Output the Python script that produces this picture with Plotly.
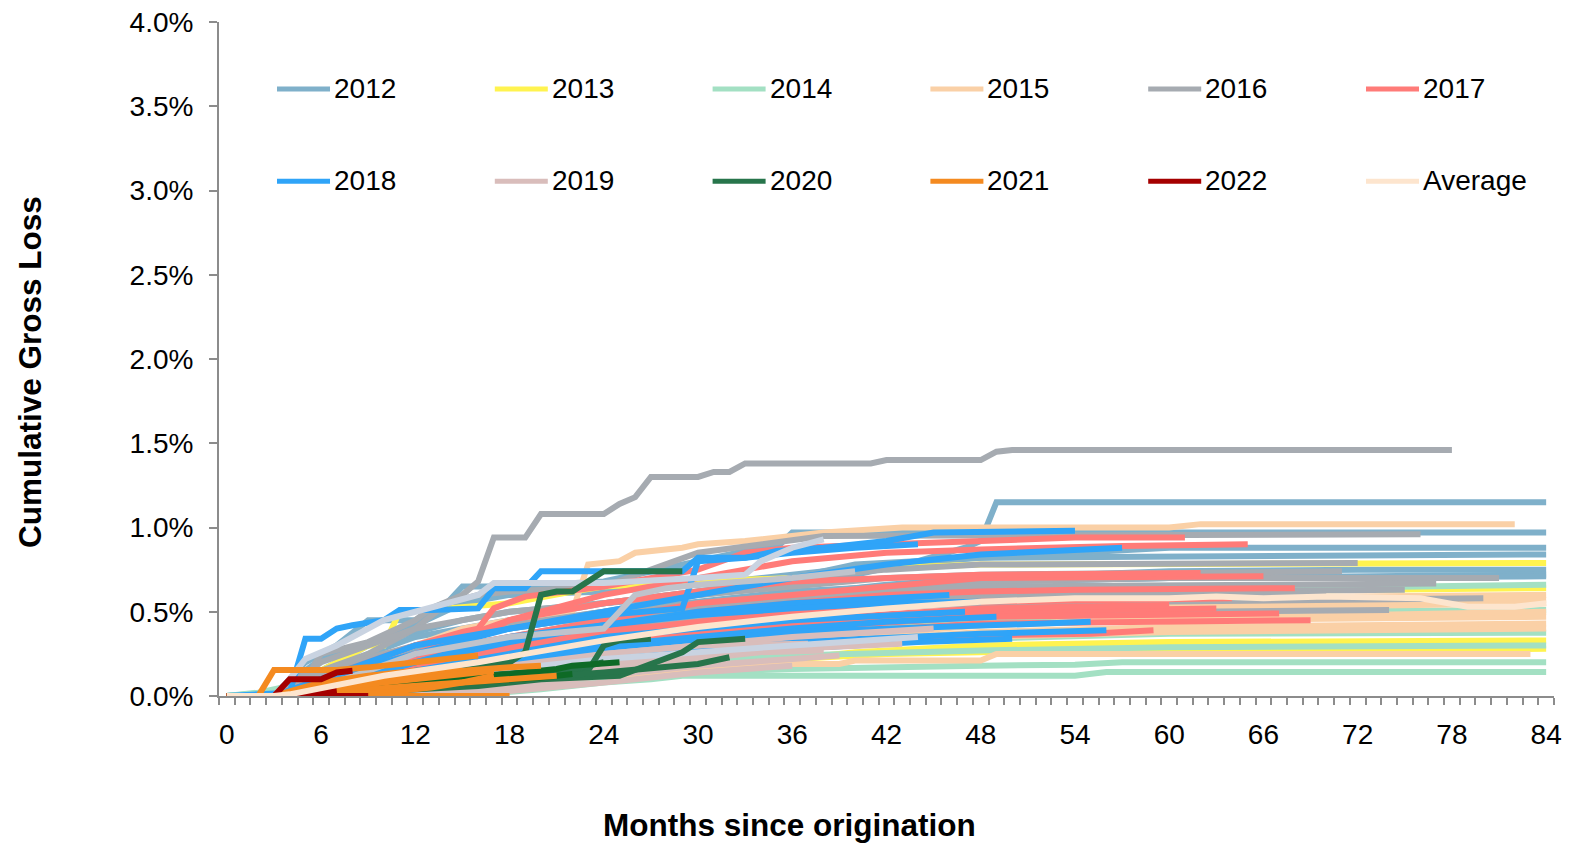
import plotly.graph_objects as go

# ---------------- data (months since origination, cumulative gross loss in %) ----------------
years = ["2012", "2013", "2014", "2015", "2016", "2017", "2018", "2019", "2020", "2021", "2022"]
year_colors = ["#7FB0CA", "#FFF34F", "#A3E0C3", "#FAD0A6", "#A6ABB1", "#FF7B78",
               "#2FA4F8", "#D9BDBB", "#27754B", "#F48A20", "#A50000"]
avg_color = "#FDE5CE"

m_2012 = [[0, 3, 5, 6, 9, 12, 15, 18, 24, 30, 36, 40, 44, 47, 48, 49, 84],
          [0, 3, 5, 7, 9, 12, 14, 15, 18, 24, 30, 34, 35, 36, 84],
          [0, 3, 6, 9, 12, 18, 24, 30, 36, 40, 44, 48, 54, 60, 84],
          [0, 3, 6, 12, 18, 24, 30, 36, 42, 48, 54, 60, 72, 84],
          [0, 3, 8, 12, 18, 24, 30, 36, 42, 48, 60, 84],
          [0, 3, 6, 12, 18, 24, 30, 36, 48, 60, 84],
          [0, 3, 9, 12, 15, 18, 24, 30, 36, 42, 48, 84]]
v_2012 = [[0, 0.02, 0.15, 0.22, 0.3, 0.38, 0.45, 0.5, 0.55, 0.6, 0.66, 0.72, 0.8, 0.88, 0.92, 1.15, 1.15],
          [0, 0, 0.2, 0.3, 0.45, 0.45, 0.55, 0.65, 0.65, 0.68, 0.8, 0.88, 0.88, 0.97, 0.97],
          [0, 0, 0.1, 0.25, 0.35, 0.45, 0.55, 0.62, 0.7, 0.78, 0.8, 0.82, 0.85, 0.88, 0.88],
          [0, 0, 0.05, 0.3, 0.4, 0.48, 0.55, 0.6, 0.66, 0.7, 0.72, 0.74, 0.75, 0.75],
          [0, 0, 0.15, 0.25, 0.32, 0.45, 0.5, 0.55, 0.62, 0.68, 0.7, 0.72],
          [0, 0, 0.1, 0.28, 0.42, 0.5, 0.56, 0.62, 0.68, 0.7, 0.71],
          [0, 0, 0.3, 0.42, 0.55, 0.6, 0.62, 0.66, 0.72, 0.78, 0.82, 0.84]]

m_2013 = [[0, 3, 6, 9, 10, 11, 14, 18, 22, 24, 30, 36, 42, 48, 84],
          [0, 3, 6, 12, 18, 24, 30, 36, 42, 48, 60, 84],
          [0, 3, 12, 18, 24, 30, 36, 40, 48, 60, 84],
          [0, 3, 12, 18, 24, 30, 36, 42, 54, 84]]
v_2013 = [[0, 0, 0.15, 0.3, 0.3, 0.5, 0.52, 0.55, 0.62, 0.65, 0.68, 0.7, 0.76, 0.78, 0.79],
          [0, 0, 0.08, 0.2, 0.3, 0.4, 0.45, 0.5, 0.55, 0.58, 0.62, 0.64],
          [0, 0, 0.08, 0.12, 0.15, 0.2, 0.22, 0.26, 0.3, 0.32, 0.33],
          [0, 0, 0.05, 0.1, 0.15, 0.2, 0.22, 0.25, 0.27, 0.28]]

m_2014 = [[0, 2, 6, 12, 18, 24, 30, 36, 48, 60, 84],
          [0, 6, 12, 18, 24, 30, 36, 48, 60, 84],
          [0, 12, 18, 24, 30, 36, 48, 60, 84],
          [0, 12, 18, 24, 30, 36, 48, 60, 84],
          [0, 16, 20, 24, 30, 36, 48, 54, 57, 84],
          [0, 16, 20, 24, 27, 29, 54, 56, 84]]
v_2014 = [[0, 0.02, 0.1, 0.2, 0.3, 0.4, 0.45, 0.5, 0.58, 0.63, 0.66],
          [0, 0.05, 0.15, 0.2, 0.28, 0.33, 0.38, 0.45, 0.5, 0.51],
          [0, 0.08, 0.12, 0.2, 0.25, 0.3, 0.34, 0.37, 0.375],
          [0, 0.05, 0.1, 0.15, 0.2, 0.24, 0.27, 0.29, 0.30],
          [0, 0.02, 0.06, 0.1, 0.14, 0.16, 0.18, 0.185, 0.2, 0.2],
          [0, 0.01, 0.04, 0.08, 0.1, 0.12, 0.12, 0.143, 0.143]]

m_2015 = [[0, 3, 6, 9, 12, 15, 18, 22, 23, 25, 26, 29, 30, 33, 38, 43, 60, 62, 82],
          [0, 3, 8, 12, 18, 24, 30, 36, 48, 60, 84],
          [0, 3, 12, 18, 24, 36, 48, 60, 84],
          [0, 3, 12, 24, 36, 48, 60, 84],
          [0, 3, 12, 24, 36, 48, 60, 84],
          [0, 3, 12, 24, 36, 48, 60, 84],
          [0, 3, 12, 20, 28, 33, 39, 40, 48, 49, 83],
          [0, 3, 12, 24, 36, 48, 60, 84],
          [0, 3, 12, 24, 36, 48, 60, 84]]
v_2015 = [[0, 0, 0.1, 0.2, 0.3, 0.4, 0.45, 0.5, 0.78, 0.8, 0.85, 0.88, 0.9, 0.92, 0.97, 1.0, 1.0, 1.02, 1.02],
          [0, 0, 0.1, 0.2, 0.3, 0.38, 0.45, 0.5, 0.55, 0.58, 0.6],
          [0, 0, 0.15, 0.22, 0.3, 0.4, 0.48, 0.52, 0.55],
          [0, 0, 0.12, 0.25, 0.35, 0.42, 0.45, 0.47],
          [0, 0, 0.1, 0.2, 0.3, 0.38, 0.41, 0.43],
          [0, 0, 0.08, 0.18, 0.28, 0.35, 0.38, 0.40],
          [0, 0, 0.06, 0.1, 0.14, 0.19, 0.19, 0.21, 0.21, 0.25, 0.25],
          [0, 0, 0.1, 0.25, 0.38, 0.5, 0.55, 0.57],
          [0, 0, 0.09, 0.2, 0.32, 0.42, 0.46, 0.5]]

m_2016 = [[0, 3, 5, 6, 9, 12, 13, 15, 16, 17, 19, 20, 24, 25, 26, 27, 30, 31, 32, 33, 41, 42, 48, 49, 50, 78],
          [0, 3, 6, 9, 12, 14, 16, 18, 24, 30, 34, 38, 76],
          [0, 3, 6, 9, 12, 15, 18, 24, 30, 36, 42, 48, 72],
          [0, 3, 6, 12, 18, 24, 30, 36, 42, 48, 60, 81],
          [0, 3, 6, 12, 18, 24, 30, 36, 42, 48, 77],
          [0, 3, 8, 12, 18, 24, 30, 36, 48, 80],
          [0, 3, 12, 18, 24, 30, 36, 48, 74],
          [0, 3, 6, 12, 18, 24, 30, 36, 42, 48, 71],
          [0, 3, 12, 18, 24, 30, 36, 48, 60, 75],
          [0, 3, 12, 24, 36, 48, 60, 70]]
v_2016 = [[0, 0, 0.1, 0.25, 0.32, 0.45, 0.52, 0.6, 0.68, 0.94, 0.94, 1.08, 1.08, 1.14, 1.18, 1.30, 1.30, 1.33, 1.33, 1.38, 1.38, 1.40, 1.40, 1.45, 1.46, 1.46],
          [0, 0, 0.15, 0.25, 0.4, 0.55, 0.6, 0.62, 0.65, 0.85, 0.9, 0.95, 0.96],
          [0, 0, 0.2, 0.3, 0.4, 0.45, 0.5, 0.55, 0.62, 0.7, 0.75, 0.78, 0.79],
          [0, 0, 0.15, 0.3, 0.4, 0.48, 0.55, 0.6, 0.65, 0.68, 0.7, 0.7],
          [0, 0, 0.1, 0.25, 0.35, 0.45, 0.52, 0.58, 0.62, 0.65, 0.667],
          [0, 0, 0.1, 0.2, 0.3, 0.38, 0.45, 0.5, 0.55, 0.58],
          [0, 0, 0.15, 0.25, 0.32, 0.4, 0.45, 0.49, 0.51],
          [0, 0, 0.12, 0.3, 0.42, 0.5, 0.6, 0.65, 0.7, 0.72, 0.74],
          [0, 0, 0.2, 0.3, 0.4, 0.48, 0.55, 0.6, 0.62, 0.63],
          [0, 0, 0.18, 0.35, 0.5, 0.58, 0.6, 0.61]]

m_2017 = [[0, 3, 6, 9, 12, 15, 16, 17, 19, 24, 30, 33, 36, 42, 48, 54, 61],
          [0, 3, 6, 12, 18, 24, 30, 36, 42, 48, 57, 65],
          [0, 3, 6, 12, 18, 24, 30, 36, 42, 48, 66],
          [0, 3, 12, 18, 24, 30, 36, 42, 48, 54, 68],
          [0, 3, 12, 24, 36, 48, 63],
          [0, 3, 12, 24, 36, 48, 67],
          [0, 3, 12, 24, 36, 48, 69],
          [0, 3, 12, 24, 36, 48, 55, 58, 59],
          [0, 3, 12, 24, 36, 48, 64],
          [0, 3, 12, 24, 36, 48, 60],
          [0, 3, 9, 15, 18, 24, 30, 36, 48, 62]]
v_2017 = [[0, 0, 0.1, 0.2, 0.3, 0.38, 0.4, 0.52, 0.59, 0.65, 0.75, 0.85, 0.88, 0.9, 0.92, 0.94, 0.94],
          [0, 0, 0.05, 0.25, 0.45, 0.6, 0.7, 0.8, 0.85, 0.87, 0.89, 0.9],
          [0, 0, 0.1, 0.25, 0.35, 0.45, 0.55, 0.6, 0.65, 0.7, 0.71],
          [0, 0, 0.2, 0.3, 0.4, 0.5, 0.55, 0.6, 0.62, 0.63, 0.64],
          [0, 0, 0.15, 0.3, 0.42, 0.5, 0.52],
          [0, 0, 0.12, 0.28, 0.4, 0.47, 0.49],
          [0, 0, 0.1, 0.25, 0.36, 0.43, 0.45],
          [0, 0, 0.08, 0.2, 0.3, 0.36, 0.37, 0.39, 0.39],
          [0, 0, 0.18, 0.38, 0.5, 0.56, 0.58],
          [0, 0, 0.14, 0.32, 0.45, 0.52, 0.54],
          [0, 0, 0.15, 0.3, 0.45, 0.55, 0.62, 0.68, 0.72, 0.73]]

m_2018 = [[0, 4, 5, 6, 7, 8, 10, 11, 13, 16, 17, 19, 20, 29, 30, 33, 35, 38, 42, 45, 54],
          [0, 3, 6, 12, 18, 24, 30, 36, 42, 48, 57],
          [0, 3, 12, 18, 24, 30, 36, 42, 46],
          [0, 3, 12, 24, 36, 42, 49],
          [0, 3, 12, 24, 36, 48, 55],
          [0, 3, 12, 24, 36, 48, 56],
          [0, 3, 12, 24, 36, 44, 50],
          [0, 3, 6, 9, 12, 15, 18, 24, 29, 30, 33, 36, 40, 44],
          [0, 3, 9, 12, 18, 24, 30, 36, 42, 48],
          [0, 3, 12, 24, 36, 47]]
v_2018 = [[0, 0.02, 0.34, 0.34, 0.4, 0.42, 0.45, 0.51, 0.51, 0.52, 0.64, 0.64, 0.74, 0.74, 0.82, 0.82, 0.86, 0.88, 0.92, 0.97, 0.98],
          [0, 0, 0.1, 0.25, 0.4, 0.5, 0.6, 0.7, 0.78, 0.84, 0.88],
          [0, 0, 0.2, 0.32, 0.42, 0.5, 0.55, 0.58, 0.6],
          [0, 0, 0.15, 0.3, 0.4, 0.44, 0.47],
          [0, 0, 0.12, 0.28, 0.38, 0.42, 0.44],
          [0, 0, 0.1, 0.22, 0.32, 0.37, 0.39],
          [0, 0, 0.08, 0.2, 0.28, 0.32, 0.34],
          [0, 0, 0.1, 0.2, 0.3, 0.35, 0.4, 0.48, 0.52, 0.8, 0.82, 0.85, 0.88, 0.9],
          [0, 0, 0.12, 0.2, 0.35, 0.42, 0.48, 0.52, 0.55, 0.56],
          [0, 0, 0.15, 0.35, 0.45, 0.5]]

m_2019 = [[0, 3, 12, 18, 24, 30, 36, 45],
          [0, 3, 12, 18, 24, 30, 36, 42],
          [0, 3, 12, 18, 24, 30, 36, 39],
          [0, 3, 10, 18, 24, 30, 36],
          [0, 4, 12, 18, 24, 30, 37],
          [0, 4, 12, 24, 36, 43],
          [0, 4, 12, 18, 24, 30, 38]]
v_2019 = [[0, 0, 0.05, 0.15, 0.25, 0.3, 0.35, 0.4],
          [0, 0, 0.04, 0.08, 0.15, 0.22, 0.28, 0.33],
          [0, 0, 0.02, 0.05, 0.12, 0.18, 0.22, 0.24],
          [0, 0, 0.01, 0.03, 0.08, 0.14, 0.18],
          [0, 0, 0.08, 0.18, 0.25, 0.3, 0.31],
          [0, 0, 0.05, 0.18, 0.28, 0.31],
          [0, 0, 0.06, 0.12, 0.2, 0.25, 0.27]]

# light slate curves without a legend entry
other_colors = ["#C9D3E1", "#BFC3CB", "#C9D3E1"]
m_other = [[0, 3, 4, 5, 7, 8, 10, 12, 14, 16, 17, 24, 30, 33, 34, 36, 38],
           [0, 3, 6, 12, 18, 24, 25, 26, 28, 30, 36, 40],
           [0, 3, 12, 24, 36, 44]]
v_other = [[0, 0, 0.1, 0.22, 0.3, 0.35, 0.45, 0.5, 0.55, 0.6, 0.67, 0.67, 0.7, 0.72, 0.8, 0.88, 0.93],
           [0, 0, 0.05, 0.25, 0.35, 0.4, 0.5, 0.6, 0.64, 0.66, 0.7, 0.74],
           [0, 0, 0.1, 0.22, 0.3, 0.35]]

m_2020 = [[0, 3, 6, 12, 18, 19, 20, 21, 22, 23, 24, 29],
          [0, 3, 8, 14, 20, 23, 24, 25, 27],
          [0, 3, 10, 16, 20, 25, 27, 29, 30, 33],
          [0, 3, 12, 18, 24, 28, 30, 32],
          [0, 3, 6, 12, 16, 20, 22, 24]]
v_2020 = [[0, 0, 0.05, 0.1, 0.2, 0.26, 0.6, 0.62, 0.62, 0.68, 0.74, 0.74],
          [0, 0, 0.03, 0.08, 0.12, 0.15, 0.3, 0.33, 0.34],
          [0, 0, 0.03, 0.06, 0.1, 0.12, 0.19, 0.26, 0.32, 0.34],
          [0, 0, 0.05, 0.1, 0.14, 0.17, 0.19, 0.23],
          [0, 0, 0.04, 0.08, 0.12, 0.15, 0.16, 0.2]]
dark_2020_color = "#0E6A26"
m_2020_dark = [[0, 3, 9, 14, 18, 21, 22, 25],
               [0, 3, 10, 15, 20, 22]]
v_2020_dark = [[0, 0, 0.05, 0.1, 0.13, 0.16, 0.18, 0.2],
               [0, 0, 0.04, 0.08, 0.11, 0.13]]

m_2021 = [[0, 2, 3, 7, 9, 12, 14, 16],
          [0, 3, 6, 9, 12, 15, 18, 20],
          [0, 3, 9, 12, 15, 18, 21],
          [0, 4, 10, 13, 15, 17],
          [3, 18],
          [0, 3, 8, 12, 15, 17],
          [0, 3, 6, 9, 12, 15]]
v_2021 = [[0, 0, 0.155, 0.155, 0.17, 0.2, 0.22, 0.24],
          [0, 0, 0.05, 0.1, 0.12, 0.15, 0.17, 0.18],
          [0, 0, 0.04, 0.06, 0.08, 0.1, 0.12],
          [0, 0, 0.02, 0.05, 0.08, 0.12],
          [0, 0],
          [0, 0, 0.06, 0.1, 0.13, 0.15],
          [0, 0, 0.08, 0.12, 0.15, 0.17]]

m_2022 = [[0, 3, 4, 6, 7, 8],
          [0, 4, 5, 6, 7],
          [0, 9]]
v_2022 = [[0, 0, 0.1, 0.1, 0.14, 0.15],
          [0, 0, 0.01, 0.02, 0.03],
          [0, 0]]

m_avg = [0, 3, 4, 7, 10, 13, 16, 19, 24, 30, 36, 42, 48, 54, 60, 63, 66, 70, 74, 76, 79, 82, 84]
v_avg = [0, 0, 0.01, 0.065, 0.12, 0.16, 0.2, 0.25, 0.33, 0.41, 0.47, 0.52, 0.56, 0.58, 0.58, 0.59, 0.58, 0.59, 0.58, 0.58, 0.53, 0.53, 0.55]

x_tick_vals = list(range(0, 85, 6))
y_tick_vals = [0, 0.5, 1.0, 1.5, 2.0, 2.5, 3.0, 3.5, 4.0]
y_tick_text = ["0.0%", "0.5%", "1.0%", "1.5%", "2.0%", "2.5%", "3.0%", "3.5%", "4.0%"]
legend_labels = years + ["Average"]
legend_colors = year_colors + [avg_color]

# ---------------- figure ----------------
FONT = "Liberation Sans, Arial, sans-serif"
LW = 6
fig = go.Figure()


def add_curves(ms, vs, color, name):
    for mm, vv in zip(ms, vs):
        fig.add_trace(go.Scatter(x=mm, y=vv, mode="lines", name=name, legendgroup=name,
                                 showlegend=False, hoverinfo="skip",
                                 line=dict(color=color, width=LW)))


curve_m = [m_2012, m_2013, m_2014, m_2015, m_2016, m_2017, m_2018, m_2019]
curve_v = [v_2012, v_2013, v_2014, v_2015, v_2016, v_2017, v_2018, v_2019]
for yr, col, ms, vs in zip(years[:8], year_colors[:8], curve_m, curve_v):
    add_curves(ms, vs, col, yr)
for mm, vv, col in zip(m_other, v_other, other_colors):
    add_curves([mm], [vv], col, "other")
add_curves(m_2020, v_2020, year_colors[8], "2020")
add_curves(m_2020_dark, v_2020_dark, dark_2020_color, "2020")
add_curves(m_2021, v_2021, year_colors[9], "2021")
add_curves(m_2022, v_2022, year_colors[10], "2022")
add_curves([m_avg], [v_avg], avg_color, "Average")

# plot-area geometry in pixels (used for layout placement only)
W, H = 1572, 846
PL, PR, PT, PB = 219, 1554, 22, 696
pw, ph = PR - PL, PB - PT


def px(x):
    return (x - PL) / pw


def py(y):
    return (PB - y) / ph


# manual two-row legend
shapes = []
annotations = []
for i, (lab, col) in enumerate(zip(legend_labels, legend_colors)):
    r, c = divmod(i, 6)
    x0 = 277 + 217.8 * c
    yy = 89 + 92.3 * r
    shapes.append(dict(type="line", xref="paper", yref="paper",
                       x0=px(x0), x1=px(x0 + 53), y0=py(yy), y1=py(yy),
                       line=dict(color=col, width=5)))
    annotations.append(dict(text=lab, xref="paper", yref="paper", x=px(x0 + 55), y=py(yy - 1),
                            xanchor="left", yanchor="middle", showarrow=False,
                            font=dict(family=FONT, size=28, color="black")))

annotations.append(dict(text="<b>Months since origination</b>", xref="paper", yref="paper",
                        x=px(789), y=py(825), xanchor="center", yanchor="middle", showarrow=False,
                        font=dict(family=FONT, size=31.5, color="black")))
annotations.append(dict(text="<b>Cumulative Gross Loss</b>", xref="paper", yref="paper",
                        x=px(30), y=py(372), xanchor="center", yanchor="middle", showarrow=False,
                        textangle=-90, font=dict(family=FONT, size=31.5, color="black")))

AXC = "#8C8C8C"
fig.update_layout(
    width=W, height=H, autosize=False,
    margin=dict(l=PL, r=W - PR, t=PT, b=H - PB, pad=0, autoexpand=False),
    paper_bgcolor="white", plot_bgcolor="white",
    showlegend=False,
    font=dict(family=FONT, color="black"),
    shapes=shapes, annotations=annotations,
    xaxis=dict(range=[-0.5, 84.5], tickmode="array", tickvals=x_tick_vals,
               ticks="", showline=True, linecolor=AXC, linewidth=2,
               showgrid=False, zeroline=False, automargin=False,
               tickfont=dict(family=FONT, size=28, color="black"),
               ticklabelstandoff=12,
               minor=dict(tickmode="array", tickvals=[k - 0.5 for k in range(86)],
                          ticks="outside", ticklen=7, tickwidth=2, tickcolor=AXC, showgrid=False)),
    yaxis=dict(range=[0, 4], tickmode="array", tickvals=y_tick_vals, ticktext=y_tick_text,
               ticks="outside", ticklen=8, tickwidth=2, tickcolor=AXC,
               showline=True, linecolor=AXC, linewidth=2,
               showgrid=False, zeroline=False, automargin=False,
               tickfont=dict(family=FONT, size=28, color="black"),
               ticklabelstandoff=10),
)

fig.write_html("out.html", config={"displayModeBar": False},
               post_script="document.body.style.margin='0';document.body.style.overflow='hidden';")
